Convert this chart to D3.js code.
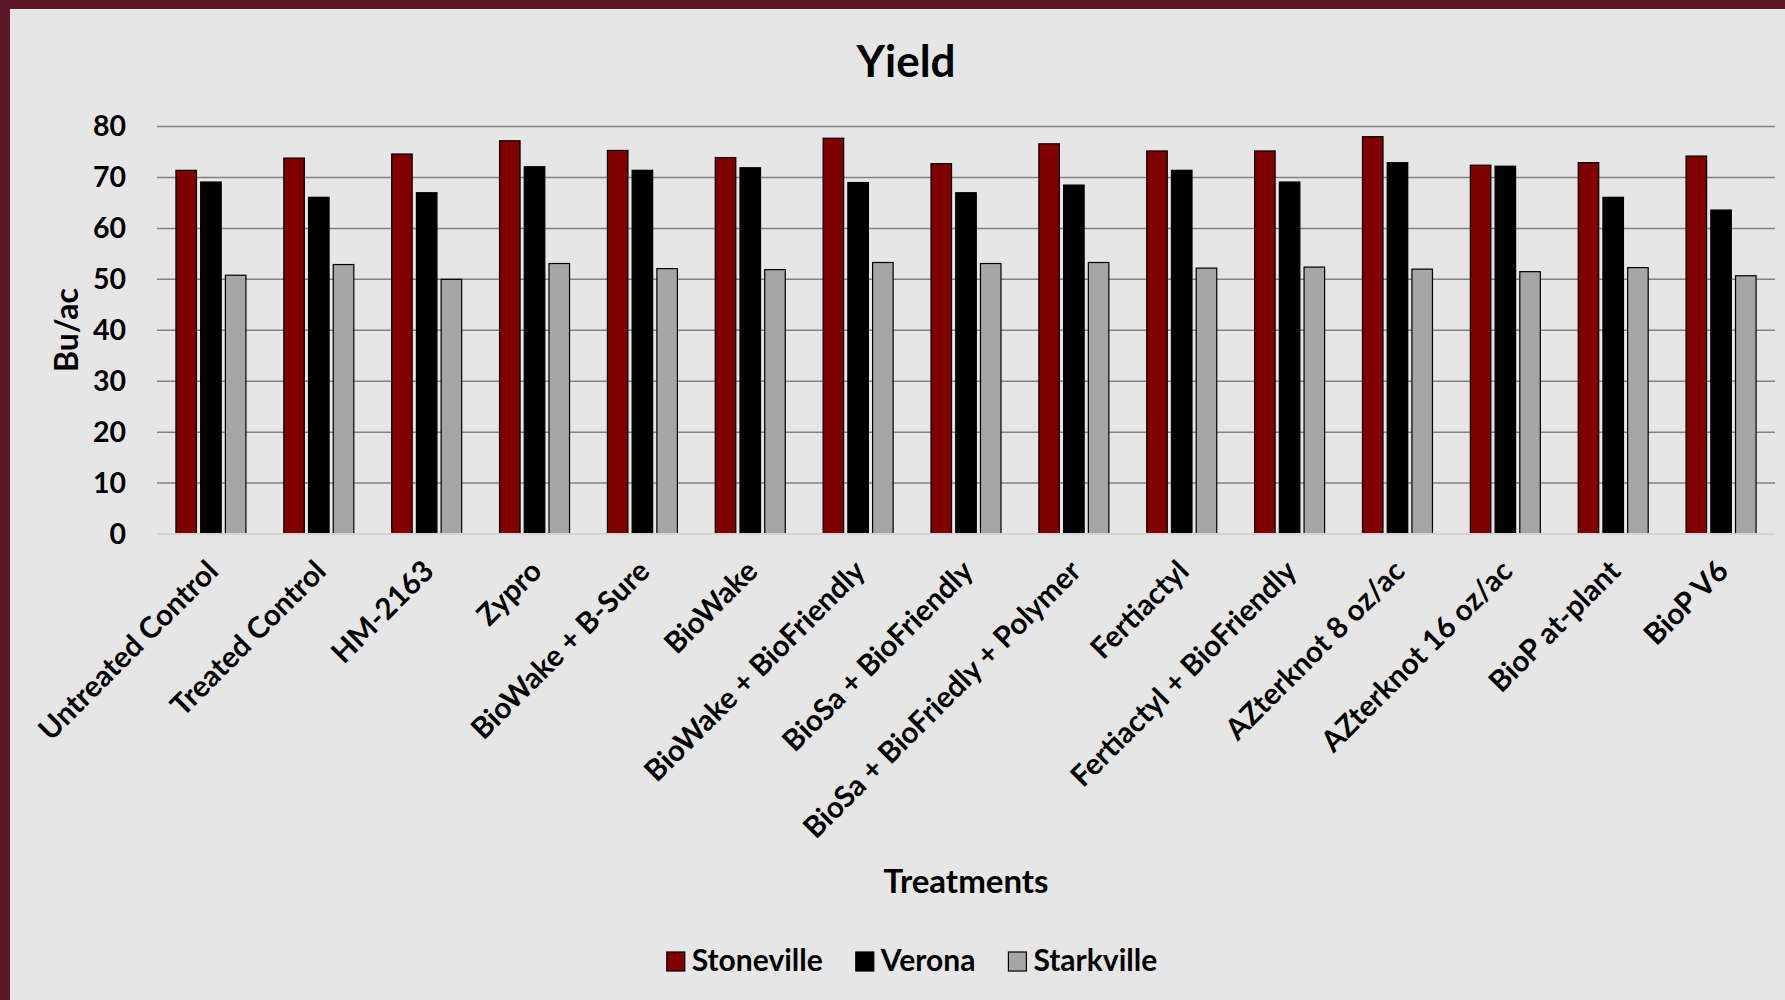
<!DOCTYPE html>
<html>
<head>
<meta charset="utf-8">
<script src="https://cdn.jsdelivr.net/npm/d3@7"></script>
<style>
    body { margin: 0; background: #e7e6e6; }
    svg { display: block; font-family: Lato, "Open Sans", sans-serif; font-weight: bold; }
</style>
</head>
<body>
<div id="chart_bar"></div>
<script>
// categories along the x axis
const treatments = ["Untreated Control", "Treated Control", "HM-2163", "Zypro", "BioWake + B-Sure",
    "BioWake", "BioWake + BioFriendly", "BioSa + BioFriendly", "BioSa + BioFriedly + Polymer",
    "Fertiactyl", "Fertiactyl + BioFriendly", "AZterknot 8 oz/ac", "AZterknot 16 oz/ac",
    "BioP at-plant", "BioP V6"];

// one array per location (Bu/ac)
const stoneville = [71.4, 73.8, 74.6, 77.2, 75.3, 73.9, 77.7, 72.7, 76.6, 75.2, 75.2, 78.0, 72.4, 72.9, 74.2];
const verona     = [69.1, 66.1, 67.0, 72.1, 71.4, 71.9, 69.0, 67.0, 68.5, 71.4, 69.1, 72.9, 72.2, 66.1, 63.6];
const starkville = [50.8, 52.9, 50.0, 53.1, 52.1, 51.9, 53.3, 53.1, 53.3, 52.2, 52.4, 52.0, 51.5, 52.3, 50.7];

const seriesNames = ["Stoneville", "Verona", "Starkville"];
const seriesColors = ["#800000", "#000000", "#a6a6a6"];
const yTicks = [0, 10, 20, 30, 40, 50, 60, 70, 80];

(function chart() {
    const width = 1785,
        height = 1000,
        margin = ({ top: 126.5, right: 10, bottom: 466, left: 157 });

    const svg = d3.select("#chart_bar")
        .append("svg")
        .attr("width", width)
        .attr("height", height);

    // slide background + the maroon edge at top and left
    svg.append("rect").attr("width", width).attr("height", height).attr("fill", "#e7e6e6");
    svg.append("rect").attr("width", width).attr("height", 9).attr("fill", "#5c1829");
    svg.append("rect").attr("width", 10).attr("height", height).attr("fill", "#5c1829");

    const data = treatments.map((t, i) => ({
        name: t,
        values: [stoneville[i], verona[i], starkville[i]]
    }));

    let x = d3.scaleBand()
        .domain(treatments)
        .range([margin.left, width - margin.right])
        .paddingInner(0)
        .paddingOuter(0);

    // inner scale for the 3 bars in a group
    let x1 = d3.scaleBand()
        .domain(seriesNames)
        .range([0, 70])
        .paddingInner(0.17);

    let y = d3.scaleLinear()
        .domain([0, 80])
        .range([height - margin.bottom, margin.top]);

    // gridlines
    svg.append("g")
        .selectAll("line")
        .data(yTicks.filter(d => d > 0))
        .join("line")
        .attr("x1", margin.left)
        .attr("x2", width - margin.right)
        .attr("y1", d => y(d))
        .attr("y2", d => y(d))
        .attr("stroke", "#828282")
        .attr("stroke-width", 1.5);

    // y axis labels
    svg.append("g")
        .attr("transform", `translate(${margin.left},0)`)
        .call(d3.axisLeft(y).tickValues(yTicks).tickSize(0).tickPadding(31))
        .call(g => g.select(".domain").remove())
        .selectAll("text")
        .attr("font-size", 28.5)
        .attr("font-family", "Lato, 'Open Sans', sans-serif")
        .attr("font-weight", "bold")
        .attr("fill", "#000");

    // bars
    const groups = svg.append("g")
        .selectAll("g")
        .data(data)
        .join("g")
        .attr("transform", d => `translate(${x(d.name) + x.bandwidth() / 2 - 35},0)`);

    groups.selectAll("rect")
        .data(d => d.values.map((v, i) => ({ key: seriesNames[i], value: v, color: seriesColors[i] })))
        .join("rect")
        .attr("x", d => x1(d.key))
        .attr("width", x1.bandwidth())
        .attr("y", d => y(d.value))
        .attr("height", d => y(0) - y(d.value))
        .attr("fill", d => d.color)
        .attr("stroke", "#000")
        .attr("stroke-width", 1.2);

    // baseline
    svg.append("line")
        .attr("x1", margin.left)
        .attr("x2", width - margin.right)
        .attr("y1", y(0))
        .attr("y2", y(0))
        .attr("stroke", "#d4d4d4")
        .attr("stroke-width", 2);

    // rotated category labels
    svg.append("g")
        .selectAll("text")
        .data(treatments)
        .join("text")
        .attr("transform", d => `translate(${x(d) + x.bandwidth() / 2 + 9},${y(0) + 39}) rotate(-45)`)
        .attr("text-anchor", "end")
        .attr("font-size", 29.5)
        .text(d => d);

    // title
    svg.append("text")
        .attr("x", 906)
        .attr("y", 77)
        .attr("text-anchor", "middle")
        .attr("font-size", 44)
        .text("Yield");

    // axis titles
    svg.append("text")
        .attr("x", (margin.left + width - margin.right) / 2)
        .attr("y", 893)
        .attr("text-anchor", "middle")
        .attr("font-size", 33)
        .text("Treatments");

    svg.append("text")
        .attr("transform", "translate(78,330) rotate(-90)")
        .attr("text-anchor", "middle")
        .attr("font-size", 32)
        .text("Bu/ac");

    // legend
    const legend = svg.append("g");
    let lx = 0;
    seriesNames.forEach((s, i) => {
        const item = legend.append("g").attr("transform", `translate(${lx},0)`);
        item.append("rect")
            .attr("x", 0).attr("y", 952)
            .attr("width", 18).attr("height", 19)
            .attr("fill", seriesColors[i])
            .attr("stroke", "#000")
            .attr("stroke-width", 1.2);
        const t = item.append("text")
            .attr("x", 25)
            .attr("y", 971)
            .attr("font-size", 30)
            .text(s);
        lx += 25 + t.node().getComputedTextLength() + 33;
    });
    lx -= 33;
    legend.attr("transform", `translate(${912 - lx / 2},0)`);
})();
</script>
</body>
</html>
